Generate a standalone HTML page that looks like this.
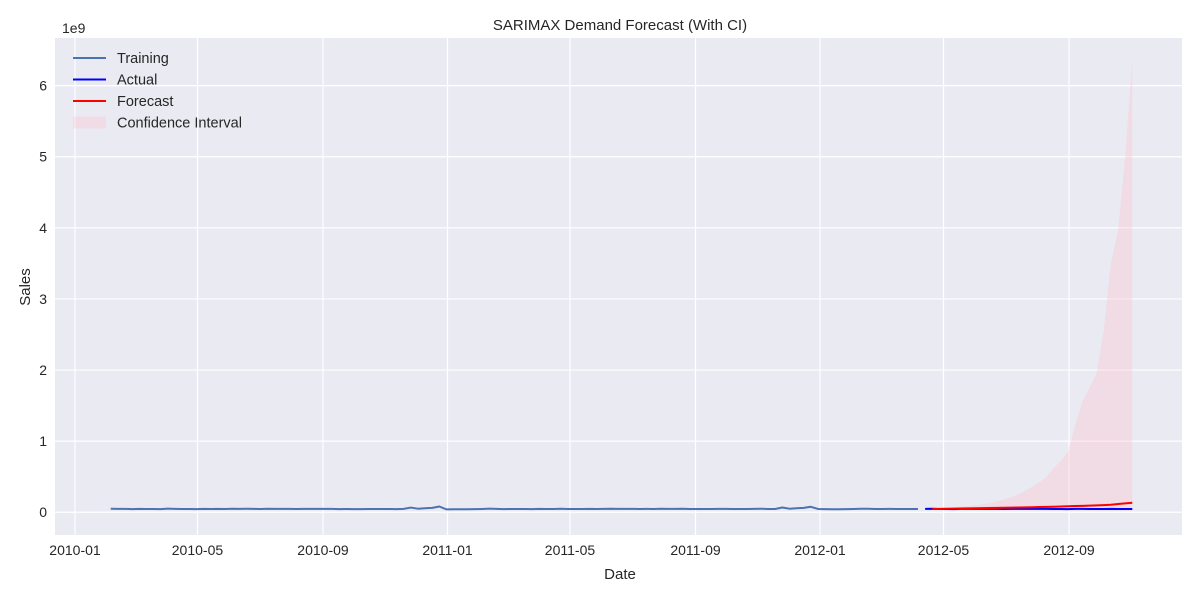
<!DOCTYPE html>
<html><head><meta charset="utf-8"><style>
body{margin:0;background:#fff;}
svg{display:block;font-family:"Liberation Sans",Arial,sans-serif;}
</style></head><body>
<svg id="chart" width="1200" height="600"></svg>
<script>
// ---- data (sales in millions; CI in billions) ----
const trainStart = "2010-02-05";
const trainSales = [49.8,48.3,48.3,44.0,46.9,45.9,45.0,44.1,50.4,47.4,46.0,45.2,43.7,47.6,46.2,47.4,46.0,48.5,48.3,48.9,48.3,46.3,48.9,47.5,47.0,46.9,45.1,47.5,46.8,47.2,46.6,48.2,44.0,45.2,44.6,43.4,46.4,45.8,46.0,45.2,43.6,47.0,
65.8,49.9,55.7,61.8,80.9,40.4,
42.8,42.0,42.1,44.0,46.3,50.5,48.3,44.0,46.5,46.1,45.0,44.6,46.9,45.9,46.5,50.0,45.1,46.1,45.1,46.8,45.5,47.0,48.6,47.5,48.2,47.0,46.2,47.0,46.5,48.4,47.0,46.6,48.7,46.3,45.1,44.8,45.2,47.9,46.8,45.5,46.2,45.3,47.0,49.5,46.0,46.0,
66.6,50.0,55.6,61.0,76.9,46.0,
44.0,42.8,42.8,43.3,46.0,50.0,50.0,45.8,46.5,47.0,46.3,45.0,46.5,46.0];
const actualStart = "2012-04-13";
const actualSales = [47.5,50.0,45.5,45.0,44.0,48.0,47.6,48.3,49.7,47.2,47.0,46.0,48.3,46.8,46.6,47.7,48.0,48.1,45.4,46.0,44.6,46.8,47.0,46.2,45.1,45.9,48.1,46.0,45.8,45.5];
const forecastStart = "2012-04-20";
const forecastSales = [45,47,49,51,52,54,56,58,60,62,63,65,67,69,71,73,75,78,81,84,87,90,93,97,101,106,116,124,134];
const ciUpper = [0.055,0.06,0.065,0.07,0.08,0.09,0.10,0.11,0.13,0.15,0.18,0.21,0.25,0.30,0.36,0.42,0.50,0.62,0.72,0.85,1.22,1.55,1.75,1.95,2.55,3.5,3.95,5.0,6.35];
const ciLower = [0.035,0.035,0.034,0.034,0.033,0.033,0.032,0.032,0.031,0.031,0.030,0.030,0.029,0.029,0.028,0.028,0.027,0.027,0.026,0.026,0.025,0.025,0.024,0.024,0.023,0.023,0.022,0.022,0.021];
const yTicks = [0,1,2,3,4,5,6];
const xTicks = ["2010-01","2010-05","2010-09","2011-01","2011-05","2011-09","2012-01","2012-05","2012-09"];

// ---- axes ----
const L=55,R=1182,T=38,B=535;
const base=Date.UTC(2010,0,1), DAY=86400000;
const dMin=-19.6, dMax=1084.7, yMin=-0.32, yMax=6.67;
function dayOf(s){const p=s.split("-").map(Number);return (Date.UTC(p[0],p[1]-1,p[2]||1)-base)/DAY;}
function X(d){return L+(d-dMin)/(dMax-dMin)*(R-L);}
function Y(v){return B-(v-yMin)/(yMax-yMin)*(B-T);}
const svg=document.getElementById("chart");
const NS="http://www.w3.org/2000/svg";
function mk(tag,attrs,parent){const e=document.createElementNS(NS,tag);for(const k in attrs)e.setAttribute(k,attrs[k]);(parent||svg).appendChild(e);return e;}

const bg=mk("rect",{x:L,y:T,width:R-L,height:B-T,fill:"#eaeaf2"});



yTicks.forEach(v=>{
  const g=mk("line",{x1:L,x2:R,y1:Y(v),y2:Y(v),stroke:"#fff","stroke-width":1.2});
  
  
  const t=mk("text",{x:L-8,y:Y(v)+5,"text-anchor":"end","font-size":14,fill:"#262626"});
  t.textContent=v;
  
  
});
xTicks.forEach(s=>{
  const x=X(dayOf(s));
  const g=mk("line",{x1:x,x2:x,y1:T,y2:B,stroke:"#fff","stroke-width":1.2});
  
  
  const t=mk("text",{x:x,y:B+20,"text-anchor":"middle","font-size":14,fill:"#262626"});
  t.textContent=s;
  
  
});

function seriesPts(start,arr,scale){const d0=dayOf(start);return arr.map((v,i)=>[X(d0+7*i),Y(v*scale)]);}

// CI band
const fd0=dayOf(forecastStart);
let pts=ciUpper.map((v,i)=>X(fd0+7*i)+","+Y(v));
for(let i=ciLower.length-1;i>=0;i--)pts.push(X(fd0+7*i)+","+Y(ciLower[i]));
const band=mk("polygon",{points:pts.join(" "),fill:"pink","fill-opacity":0.35});



function line(p,color,name){
  const e=mk("polyline",{points:p.map(q=>q.join(",")).join(" "),fill:"none",stroke:color,"stroke-width":2,"stroke-linejoin":"round"});
  
  
}
line(seriesPts(trainStart,trainSales,0.001),"#4c72b0","training-line");
line(seriesPts(actualStart,actualSales,0.001),"#0000ff","actual-line");
line(seriesPts(forecastStart,forecastSales,0.001),"#ff0000","forecast-line");

// labels
function txt(x,y,s,size,name,extra){const t=mk("text",Object.assign({x:x,y:y,"font-size":size,fill:"#262626"},extra||{}));t.textContent=s;

return t;}
txt(620,30,"SARIMAX Demand Forecast (With CI)",15,"chart-title",{"text-anchor":"middle"});
txt(62,33,"1e9",14,"y-scale-label");
txt(620,579,"Date",15,"x-axis-title",{"text-anchor":"middle"});
txt(30,287,"Sales",15,"y-axis-title",{"text-anchor":"middle",transform:"rotate(-90 30 287)"});

// legend
const legend=[["Training","#4c72b0","line"],["Actual","#0000ff","line"],["Forecast","#ff0000","line"],["Confidence Interval","pink","patch"]];
legend.forEach((it,i)=>{
  const y=58+i*21.5;
  if(it[2]==="line"){
    const l=mk("line",{x1:73,x2:106,y1:y,y2:y,stroke:it[1],"stroke-width":2});
    
    
  } else {
    const r=mk("rect",{x:73,y:y-6,width:33,height:12,fill:it[1],"fill-opacity":0.35});
    
    
  }
  txt(117,y+5,it[0],14.5,"legend-entry");
});
</script>
</body></html>
